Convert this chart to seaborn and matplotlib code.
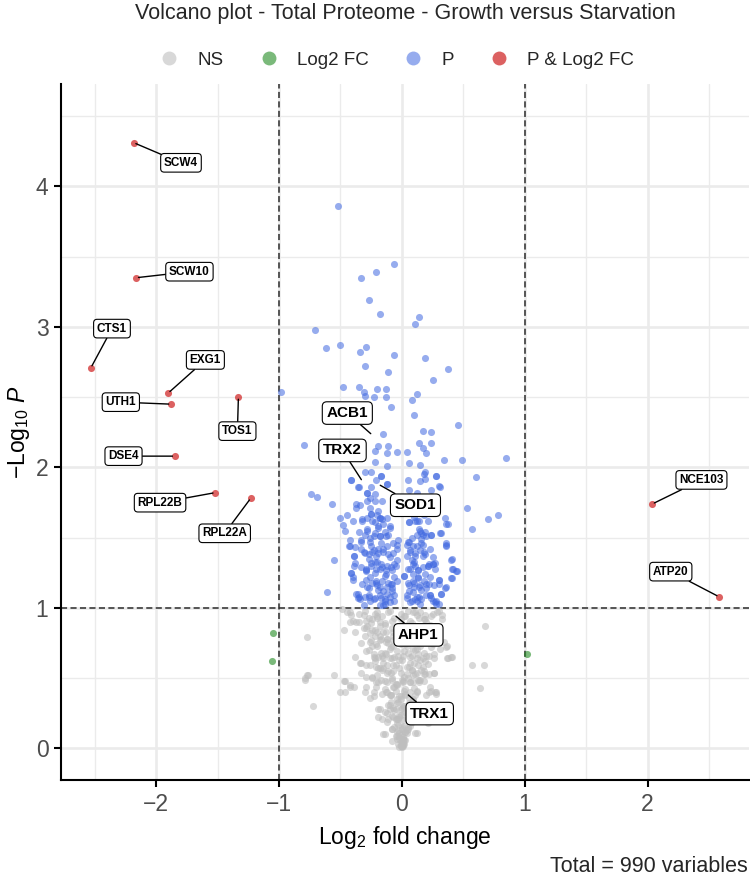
import matplotlib
matplotlib.use("Agg")
import matplotlib.pyplot as plt
from matplotlib.lines import Line2D
import seaborn as sns
import pandas as pd

# ---------------- data ----------------
title = "Volcano plot - Total Proteome - Growth versus Starvation"
caption = "Total = 990 variables"
categories = ["NS", "Log2 FC", "P", "P & Log2 FC"]
x_ticks = [-2, -1, 0, 1, 2]
y_ticks = [0, 1, 2, 3, 4]
fc_cutoff = 1.0
p_cutoff = 1.0

# significant in both (red)
both_genes = ["SCW4", "SCW10", "CTS1", "EXG1", "UTH1", "TOS1", "DSE4",
              "RPL22B", "RPL22A", "NCE103", "ATP20"]
both_x = [-2.18, -2.16, -2.53, -1.90, -1.88, -1.33, -1.85, -1.52, -1.23, 2.04, 2.58]
both_y = [4.31, 3.35, 2.71, 2.53, 2.45, 2.50, 2.08, 1.82, 1.78, 1.74, 1.08]

# fold change only (green)
fc_x = [-1.05, -1.06, 1.02]
fc_y = [0.82, 0.62, 0.67]

# p-value only (blue)
p_x = [-0.52, -0.06, -0.21, -0.33, -0.27, -0.18, 0.14, 0.11, -0.71, -0.62, -0.50, -0.29,
       -0.34, -0.06, 0.19, -0.30, -0.11, 0.38, 0.25,
       -0.98, -0.48, -0.35, -0.31, -0.30, -0.20, -0.13, -0.23, -0.13, -0.09, 0.08, 0.12,
       0.10, 0.46, 0.17, 0.24, -0.15, -0.80, 0.14, 0.24, 0.17, -0.11, -0.19, -0.22, -0.12,
       -0.04, 0.04, 0.20, 0.34, 0.49, 0.85, -0.22, 0.06, 0.15, -0.12, -0.30, -0.25, 0.19,
       0.28, 0.60, -0.41, -0.17, -0.12, 0.15, 0.30, -0.36, -0.74, -0.69, -0.57, -0.28,
       -0.22, -0.37, -0.28, 0.12, 0.24, 0.53, -0.45, -0.50, -0.37, -0.32, -0.25, -0.18,
       -0.12, -0.19, -0.10, -0.48, -0.46, -0.28, 0.06, 0.11, 0.14, 0.21, 0.17, 0.24, 0.32,
       0.35, 0.38, 0.57, 0.70, 0.78, -0.42, -0.42, -0.38, -0.33, -0.23, -0.18, -0.13,
       -0.07, -0.04, 0.06, 0.09, 0.17, 0.36, -0.55, -0.39, -0.38, 0.40, 0.41, 0.45, 0.22,
       0.25, 0.30, 0.41, 0.35, 0.32, -0.61, -0.41, -0.40, -0.37, -0.36, -0.27, -0.29,
       -0.29, 0.02, 0.23, 0.27, 0.30,
       -0.41, -0.35, -0.25, -0.21, -0.17, -0.12, -0.28, -0.26, -0.22, -0.16, -0.34, -0.26,
       -0.25, -0.19, -0.18, -0.22, -0.15, -0.40, -0.32, -0.35, -0.28, -0.19, -0.10, -0.11,
       -0.33, -0.26, -0.17, -0.03, 0.05, 0.06, 0.12, 0.15, 0.19, 0.18, 0.19, 0.28, 0.24,
       0.31, 0.05, 0.06, 0.12, 0.24, 0.31, 0.36, 0.16, 0.36,
       -0.43, -0.39, -0.39, -0.41, -0.40, -0.36, -0.35, -0.27, -0.33, -0.30, -0.27, -0.25,
       -0.29, -0.22, -0.26, -0.21, -0.18, -0.15, -0.17, -0.14, -0.19, -0.15, -0.12, -0.10,
       -0.07, -0.04, -0.04, -0.12, -0.08, -0.18, -0.14, -0.06, -0.04, -0.11, -0.08, -0.12,
       -0.06, -0.10, -0.18, -0.22, -0.21, -0.25,
       0.04, 0.07, 0.04, 0.12, 0.11, 0.16, 0.17, 0.25, 0.36, 0.41, 0.42, 0.44, 0.40, 0.36,
       0.30, 0.30, 0.21, 0.25, 0.27, 0.11, 0.07, 0.02, 0.09, 0.13, 0.09, 0.15, 0.20, 0.16,
       0.09, 0.04, 0.07, 0.12, 0.15, 0.23, 0.25, 0.28, 0.32, 0.19, 0.23,
       -0.24, -0.20, -0.16, -0.13, -0.09, -0.23, -0.19, -0.14, -0.08, 0.08, 0.13, 0.10,
       0.14, 0.18, 0.06, 0.10, 0.13, -0.31, -0.27, -0.21, -0.15, -0.06, 0.05, 0.20, 0.11]
p_y = [3.86, 3.45, 3.39, 3.35, 3.19, 3.09, 3.07, 3.02, 2.98, 2.85, 2.87, 2.86,
       2.82, 2.80, 2.78, 2.72, 2.68, 2.70, 2.62,
       2.54, 2.57, 2.57, 2.54, 2.51, 2.56, 2.56, 2.50, 2.50, 2.43, 2.48, 2.52,
       2.37, 2.30, 2.26, 2.25, 2.24, 2.16, 2.17, 2.17, 2.14, 2.15, 2.15, 2.12, 2.10,
       2.11, 2.11, 2.10, 2.05, 2.05, 2.07, 2.04, 2.03, 2.02, 2.01, 1.97, 1.97, 1.97,
       1.94, 1.93, 1.91, 1.94, 1.88, 1.90, 1.87, 1.86, 1.81, 1.79, 1.74, 1.82,
       1.81, 1.74, 1.76, 1.82, 1.77, 1.71, 1.66, 1.64, 1.71, 1.63, 1.67, 1.64,
       1.64, 1.58, 1.57, 1.59, 1.55, 1.56, 1.61, 1.62, 1.56, 1.62, 1.52, 1.52, 1.53,
       1.64, 1.60, 1.56, 1.63, 1.66, 1.48, 1.44, 1.43, 1.47, 1.51, 1.51, 1.51,
       1.46, 1.42, 1.47, 1.44, 1.45, 1.45, 1.34, 1.37, 1.32, 1.34, 1.28, 1.26, 1.31,
       1.31, 1.20, 1.21, 1.14, 1.10, 1.11, 1.25, 1.20, 1.10, 1.07, 1.08, 1.26,
       1.20, 1.23, 1.09, 1.04, 1.03,
       1.91, 1.86, 1.86, 1.91, 1.94, 1.88, 1.82, 1.78, 1.76, 1.76, 1.73, 1.71,
       1.67, 1.69, 1.64, 1.61, 1.60, 1.62, 1.62, 1.54, 1.55, 1.57, 1.58, 1.52,
       1.48, 1.47, 1.46, 1.48, 1.47, 1.61, 1.62, 1.55, 1.54, 1.95, 1.92, 1.94, 1.84,
       1.86, 1.91, 1.84, 1.74, 1.52, 1.53, 1.60, 1.49, 1.46,
       1.44, 1.37, 1.30, 1.25, 1.22, 1.10, 1.08, 1.09, 1.42, 1.39, 1.35, 1.32,
       1.28, 1.25, 1.22, 1.19, 1.15, 1.12, 1.07, 1.03, 1.42, 1.40, 1.44, 1.36,
       1.39, 1.45, 1.34, 1.30, 1.27, 1.28, 1.23, 1.22, 1.19, 1.18, 1.14, 1.10,
       1.09, 1.04, 1.02, 1.33, 1.37, 1.44,
       1.45, 1.41, 1.37, 1.44, 1.37, 1.46, 1.37, 1.36, 1.44, 1.35, 1.28, 1.26, 1.21, 1.15,
       1.20, 1.17, 1.30, 1.31, 1.32, 1.30, 1.28, 1.23, 1.24, 1.22, 1.19, 1.16, 1.17, 1.13,
       1.11, 1.09, 1.04, 1.05, 1.03, 1.09, 1.05, 1.03, 1.10, 1.24, 1.22,
       1.40, 1.33, 1.29, 1.24, 1.17, 1.06, 1.13, 1.05, 1.12, 1.34, 1.27, 1.15,
       1.08, 1.40, 1.12, 1.33, 1.21, 1.02, 1.14, 1.18, 1.02, 1.31, 1.18, 1.14, 1.06]

# p-value only (blue), dense core of the cloud
p_core_x = [-0.34, -0.30, -0.26, -0.22, -0.18, -0.14, -0.10, -0.06, 0.04, 0.08, 0.12, 0.16, 0.20, 0.24, 0.28,
            -0.32, -0.28, -0.24, -0.20, -0.16, -0.12, -0.08, 0.06, 0.10, 0.14, 0.18, 0.22, 0.26,
            -0.33, -0.29, -0.25, -0.21, -0.17, -0.13, -0.09, -0.05, 0.05, 0.09, 0.13, 0.17, 0.21, 0.27,
            -0.31, -0.27, -0.23, -0.19, -0.15, -0.11, 0.07, 0.11, 0.15, 0.19, 0.23,
            -0.30, -0.26, -0.22, -0.18, -0.14, 0.08, 0.12, 0.16, 0.20,
            -0.28, -0.24, -0.20, -0.16, 0.10, 0.14, 0.18]
p_core_y = [1.06, 1.08, 1.05, 1.07, 1.09, 1.06, 1.08, 1.05, 1.07, 1.05, 1.08, 1.06, 1.09, 1.07, 1.05,
            1.17, 1.15, 1.18, 1.16, 1.19, 1.15, 1.17, 1.16, 1.18, 1.15, 1.19, 1.17, 1.16,
            1.29, 1.27, 1.30, 1.28, 1.31, 1.27, 1.29, 1.30, 1.28, 1.31, 1.27, 1.29, 1.30, 1.28,
            1.40, 1.38, 1.41, 1.39, 1.42, 1.38, 1.40, 1.39, 1.41, 1.38, 1.42,
            1.52, 1.50, 1.53, 1.51, 1.54, 1.50, 1.52, 1.53, 1.51,
            1.64, 1.62, 1.66, 1.63, 1.65, 1.62, 1.66]

# not significant (grey)
ns_x = [0.68, -0.77, 0.57, 0.67, 0.64, -0.79, -0.77, -0.72, -0.55, -0.47, -0.38, -0.33,
        -0.46, -0.50, -0.46, -0.42, -0.39, -0.14, -0.19, 0.21, 0.12, 0.28, 0.24, 0.22,
        0.18, 0.26, 0.40, 0.38, 0.26, 0.36, 0.34, 0.25, 0.23, 0.19, 0.11, 0.07, -0.14,
        -0.20, -0.25, -0.26, -0.22, -0.18, -0.15, -0.42, -0.49, -0.40, -0.37, -0.29, -0.30,
        -0.26, -0.23, -0.21, -0.19, -0.23, -0.15, -0.10, -0.13, -0.07, -0.03, 0.01, 0.05,
        0.12, 0.08, 0.00, -0.07, -0.12, -0.04, 0.01, -0.10, -0.04, 0.04, -0.02, 0.01, 0.00,
        0.05, -0.08, -0.11, -0.16, 0.07, 0.13, 0.12, 0.20, 0.23,
        -0.79, -0.76, -0.47, -0.42, -0.41, -0.42, -0.38, -0.31, -0.29, -0.24, -0.18, -0.22,
        -0.24, -0.29, -0.34, -0.26, -0.33, -0.24, -0.29, -0.23, -0.19, -0.16, -0.18, -0.19,
        -0.14, -0.12, -0.08, -0.15, -0.04, -0.01, 0.00, 0.01, 0.04, 0.07, 0.11, 0.09, 0.04,
        -0.03, -0.05, -0.01, 0.03, -0.04, -0.10, -0.08, -0.12, -0.15, -0.07, -0.01, 0.04,
        0.09, 0.12, 0.19, 0.26, 0.22, 0.27, 0.28, 0.12, 0.09, 0.01, 0.07, 0.15, 0.20, 0.26,
        0.31, 0.37, 0.41, 0.37, 0.33, 0.12, 0.18, -0.01, -0.07, -0.12, -0.18, -0.07, -0.01,
        0.04, 0.09, 0.15, -0.16, -0.22, -0.29,
        -0.45, -0.35, -0.30, -0.20, -0.10, 0.05, 0.15, 0.25, 0.30,
        -0.35, -0.28, -0.20, -0.14, -0.08, -0.03, 0.02, 0.08, 0.13, 0.20, 0.27,
        -0.30, -0.25, -0.20, -0.12, -0.05, 0.00, 0.05, 0.10, 0.17, 0.22, 0.30,
        -0.27, -0.20, -0.13, -0.09, -0.04, 0.03, 0.08, 0.12, 0.18, 0.24,
        -0.22, -0.18, -0.10, -0.05, 0.00, 0.06, 0.10, 0.16, 0.21,
        -0.20, -0.14, -0.09, -0.05, 0.02, 0.07, 0.11, 0.15,
        -0.14, -0.09, -0.06, -0.02, 0.02, 0.06, 0.10,
        -0.10, -0.06, -0.03, 0.00, 0.03, 0.06,
        -0.07, -0.04, -0.01, 0.02, 0.05,
        -0.04, -0.02, 0.00, 0.02, 0.04,
        -0.01, 0.01, 0.00,
        -0.33, -0.17, -0.11, -0.02, 0.06, 0.11, 0.17, -0.24, -0.09, 0.03, 0.14, 0.19,
        -0.21, -0.15, -0.06, 0.01, 0.09, 0.18, -0.12, -0.03, 0.05, 0.13, -0.08, 0.00,
        0.08, -0.05, 0.03, -0.02]
ns_y = [0.87, 0.79, 0.59, 0.59, 0.43, 0.49, 0.52, 0.30, 0.52, 0.84, 0.65, 0.61,
        0.48, 0.40, 0.40, 0.44, 0.44, 0.10, 0.28, 0.18, 0.11, 0.40, 0.41, 0.53,
        0.53, 0.54, 0.65, 0.64, 0.64, 0.72, 0.76, 0.82, 0.88, 0.92, 0.97, 0.91, 0.89,
        0.94, 0.89, 0.82, 0.80, 0.77, 0.83, 0.97, 0.99, 0.91, 0.90, 0.51, 0.40,
        0.36, 0.37, 0.47, 0.57, 0.65, 0.64, 0.71, 0.76, 0.80, 0.87, 0.76, 0.68,
        0.64, 0.56, 0.49, 0.44, 0.40, 0.35, 0.30, 0.28, 0.21, 0.21, 0.11, 0.07, 0.02,
        0.14, 0.14, 0.21, 0.21, 0.47, 0.49, 0.40, 0.38, 0.44,
        0.50, 0.52, 0.48, 0.45, 0.95, 0.90, 0.83, 0.86, 0.91, 0.92, 0.90, 0.84,
        0.73, 0.69, 0.61, 0.59, 0.54, 0.51, 0.44, 0.40, 0.47, 0.39, 0.28, 0.22,
        0.26, 0.19, 0.14, 0.10, 0.07, 0.02, 0.03, 0.07, 0.11, 0.16, 0.11, 0.21, 0.26,
        0.21, 0.28, 0.35, 0.42, 0.45, 0.38, 0.49, 0.54, 0.61, 0.59, 0.54, 0.53,
        0.52, 0.54, 0.53, 0.54, 0.40, 0.40, 0.39, 0.41, 0.35, 0.66, 0.61, 0.63, 0.66, 0.67,
        0.71, 0.73, 0.65, 0.64, 0.92, 0.95, 0.92, 0.92, 0.83, 0.78, 0.80, 0.73, 0.76,
        0.73, 0.71, 0.73, 0.66, 0.64, 0.59,
        0.97, 0.96, 0.98, 0.97, 0.98, 0.98, 0.97, 0.96, 0.98,
        0.90, 0.87, 0.93, 0.88, 0.91, 0.86, 0.94, 0.89, 0.85, 0.90, 0.87,
        0.80, 0.77, 0.83, 0.78, 0.81, 0.79, 0.84, 0.76, 0.82, 0.78, 0.80,
        0.70, 0.73, 0.67, 0.72, 0.69, 0.74, 0.66, 0.71, 0.68, 0.72,
        0.62, 0.57, 0.64, 0.59, 0.63, 0.58, 0.61, 0.56, 0.60,
        0.52, 0.48, 0.54, 0.46, 0.51, 0.47, 0.53, 0.49,
        0.42, 0.38, 0.44, 0.37, 0.41, 0.36, 0.43,
        0.31, 0.27, 0.33, 0.29, 0.26, 0.32,
        0.22, 0.18, 0.24, 0.16, 0.20,
        0.12, 0.08, 0.10, 0.06, 0.13,
        0.04, 0.03, 0.01,
        0.75, 0.68, 0.55, 0.63, 0.85, 0.70, 0.58, 0.50, 0.33, 0.38, 0.47, 0.62,
        0.44, 0.57, 0.65, 0.47, 0.34, 0.48, 0.25, 0.17, 0.25, 0.31, 0.05, 0.15,
        0.19, 0.09, 0.12, 0.24]

# not significant (grey), dense core of the funnel
ns_core_x = [-0.31, -0.27, -0.22, -0.16, -0.11, -0.06, -0.01, 0.03, 0.09, 0.14, 0.19, 0.24, 0.29, 0.33,
             -0.29, -0.24, -0.18, -0.13, -0.08, -0.02, 0.04, 0.11, 0.16, 0.21, 0.27,
             -0.26, -0.21, -0.17, -0.11, -0.07, -0.01, 0.04, 0.09, 0.14, 0.19, 0.25,
             -0.23, -0.19, -0.14, -0.08, -0.03, 0.02, 0.07, 0.13, 0.17, 0.22,
             -0.21, -0.16, -0.12, -0.07, -0.02, 0.04, 0.08, 0.13, 0.18,
             -0.17, -0.12, -0.08, -0.04, 0.01, 0.05, 0.09, 0.14,
             -0.13, -0.09, -0.05, -0.01, 0.03, 0.07, 0.11,
             -0.11, -0.07, -0.04, -0.01, 0.02, 0.05, 0.08,
             -0.08, -0.05, -0.02, 0.01, 0.04, 0.07,
             -0.06, -0.03, 0.00, 0.03, 0.05,
             -0.04, -0.02, 0.01, 0.03,
             -0.03, -0.01, 0.01, 0.02, -0.02, 0.00, 0.01]
ns_core_y = [0.95, 0.93, 0.96, 0.94, 0.97, 0.93, 0.96, 0.94, 0.97, 0.93, 0.95, 0.94, 0.97, 0.95,
             0.86, 0.84, 0.87, 0.83, 0.86, 0.84, 0.88, 0.85, 0.83, 0.86, 0.84,
             0.76, 0.74, 0.78, 0.75, 0.77, 0.74, 0.76, 0.78, 0.75, 0.77, 0.74,
             0.67, 0.65, 0.68, 0.64, 0.66, 0.69, 0.65, 0.67, 0.64, 0.66,
             0.58, 0.56, 0.59, 0.55, 0.57, 0.58, 0.56, 0.59, 0.55,
             0.49, 0.47, 0.50, 0.46, 0.48, 0.50, 0.47, 0.49,
             0.40, 0.38, 0.41, 0.37, 0.39, 0.40, 0.38,
             0.31, 0.29, 0.32, 0.28, 0.30, 0.31, 0.29,
             0.23, 0.21, 0.22, 0.20, 0.23, 0.21,
             0.15, 0.13, 0.14, 0.12, 0.15,
             0.09, 0.07, 0.08, 0.06,
             0.03, 0.02, 0.04, 0.03, 0.01, 0.05, 0.02]

big_genes = ["ACB1", "TRX2", "SOD1", "AHP1", "TRX1"]
big_x = [-0.24, -0.32, -0.19, -0.06, 0.04]
big_y = [2.23, 1.90, 1.88, 0.95, 0.39]

# ---------------- styling ----------------
colors = {"NS": "#BEBEBE", "Log2 FC": "#228B22", "P": "#4169E1", "P & Log2 FC": "#D43A3A"}
alphas = {"NS": 0.6, "Log2 FC": 0.6, "P": 0.55, "P & Log2 FC": 0.8}

sns.set_theme(style="white")
plt.rcParams["font.family"] = ["Liberation Sans", "DejaVu Sans"]
plt.rcParams["mathtext.fontset"] = "custom"
plt.rcParams["mathtext.rm"] = "Liberation Sans"
plt.rcParams["mathtext.it"] = "Liberation Sans:italic"
plt.rcParams["mathtext.bf"] = "Liberation Sans:bold"

df = pd.concat([
    pd.DataFrame({"x": ns_x + ns_core_x, "y": ns_y + ns_core_y, "cat": "NS"}),
    pd.DataFrame({"x": fc_x, "y": fc_y, "cat": "Log2 FC"}),
    pd.DataFrame({"x": p_x + p_core_x, "y": p_y + p_core_y, "cat": "P"}),
    pd.DataFrame({"x": both_x, "y": both_y, "cat": "P & Log2 FC"}),
], ignore_index=True)

W, H = 750, 880
fig = plt.figure(figsize=(7.5, 8.8), dpi=100)
ax = fig.add_axes([61 / W, 1 - 780 / H, (749 - 61) / W, (780 - 84.5) / H])

# grid
ax.set_xticks(x_ticks)
ax.set_yticks(y_ticks)
ax.set_xticks([-2.5, -1.5, -0.5, 0.5, 1.5, 2.5], minor=True)
ax.set_yticks([0.5, 1.5, 2.5, 3.5, 4.5], minor=True)
ax.grid(True, which="major", color="#EBEBEB", lw=1.9)
ax.grid(True, which="minor", color="#EBEBEB", lw=1.0)
ax.set_axisbelow(True)

for cat in categories:
    sub = df[df["cat"] == cat]
    sns.scatterplot(data=sub, x="x", y="y", color=colors[cat], alpha=alphas[cat],
                    s=26, linewidth=0, ax=ax, legend=False, zorder=3)

# cutoff lines
ls = (0, (4, 2.2))
ax.axvline(-fc_cutoff, color="#2b2b2b", lw=1.1, ls=ls, zorder=2)
ax.axvline(fc_cutoff, color="#2b2b2b", lw=1.1, ls=ls, zorder=2)
ax.axhline(p_cutoff, color="#2b2b2b", lw=1.1, ls=ls, zorder=2)

ax.set_xlim(-2.774, 2.826)
ax.set_ylim(-0.225, 4.725)

for side in ["top", "right"]:
    ax.spines[side].set_visible(False)
for side in ["left", "bottom"]:
    ax.spines[side].set_color("black")
    ax.spines[side].set_linewidth(1.5)
ax.tick_params(axis="both", which="major", length=5, width=1.5, color="black",
               labelsize=16.5, labelcolor="#4D4D4D", pad=4, bottom=True, left=True)
ax.tick_params(axis="both", which="minor", length=0)
ax.set_xticklabels(["\u22122", "\u22121", "0", "1", "2"])

ax.set_xlabel(r"Log$_2$ fold change", fontsize=16.5, labelpad=6, color="black")
ax.set_ylabel(r"$-$Log$_{10}$ $\mathit{P}$", fontsize=16.5, labelpad=3, color="black")

# labels
small_off = {"SCW4": (47, -20), "SCW10": (53, 6), "CTS1": (21, 39), "EXG1": (37, 33),
             "UTH1": (-50, 2), "TOS1": (-1, -34), "DSE4": (-51, 0), "RPL22B": (-55, -10),
             "RPL22A": (-26, -35), "NCE103": (49, 24), "ATP20": (-48, 25)}
big_off = {"ACB1": (-25, 22), "TRX2": (-20, 31), "SOD1": (37, -21), "AHP1": (24, -20),
           "TRX1": (23, -20)}

def put_label(name, x, y, off, size):
    ax.annotate(name, xy=(x, y), xytext=off, textcoords="offset pixels",
                ha="center", va="center", fontsize=size, fontweight="bold", color="black",
                bbox=dict(boxstyle="round,pad=0.28,rounding_size=0.3", fc="white",
                          ec="black", lw=0.8),
                arrowprops=dict(arrowstyle="-", color="black", lw=1.0,
                                shrinkA=0, shrinkB=1.5),
                zorder=5)

for g, x, y in zip(both_genes, both_x, both_y):
    put_label(g, x, y, small_off[g], 8.5)
for g, x, y in zip(big_genes, big_x, big_y):
    put_label(g, x, y, big_off[g], 11)

# title, legend, caption
fig.text(405 / W, 1 - 14 / H, title, ha="center", va="center", fontsize=15.5)
handles = [Line2D([0], [0], marker="o", ls="", markersize=10, markeredgewidth=0,
                  markerfacecolor=colors[c], alpha=alphas[c]) for c in categories]
fig.legend(handles, categories, loc="center", bbox_to_anchor=(397 / W, 1 - 60 / H),
           ncol=4, frameon=False, fontsize=13.5, handlelength=1.0, handletextpad=1.0,
           columnspacing=1.9)
fig.text(748 / W, 1 - 866 / H, caption, ha="right", va="center", fontsize=15.5)

fig.savefig("out.png", dpi=100)
